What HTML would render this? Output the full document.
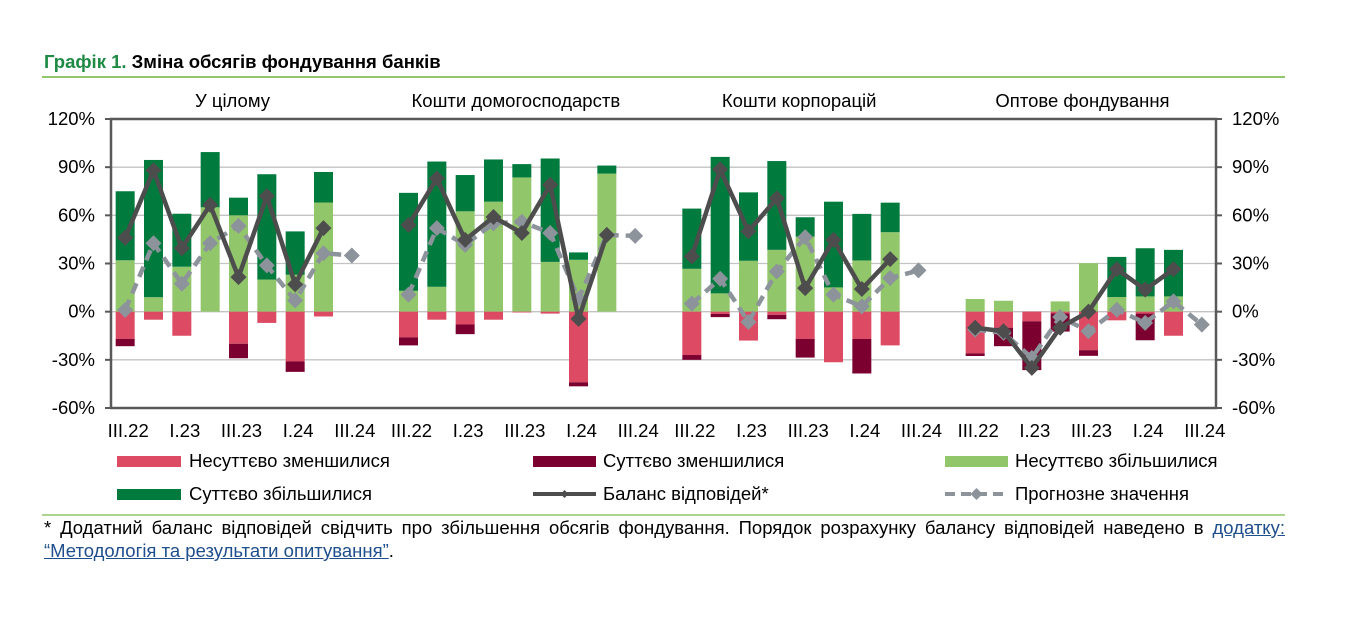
<!DOCTYPE html>
<html><head><meta charset="utf-8">
<style>
body{margin:0;background:#fff;width:1353px;height:619px;overflow:hidden;font-family:"Liberation Sans",Arial,sans-serif;}
svg{position:absolute;left:0;top:0;}
.t{font-family:"Liberation Sans",Arial,sans-serif;font-size:18.5px;fill:#000;}
#foot{position:absolute;left:44px;top:516px;width:1241px;font-size:18.5px;line-height:23px;text-align:justify;color:#000;}
#foot a{color:#1f4e8c;text-decoration:underline;}
</style></head>
<body>
<svg id="chart" width="1353" height="619" viewBox="0 0 1353 619" xmlns="http://www.w3.org/2000/svg">
<text x="44" y="68" class="t" style="font-weight:bold;font-size:18.5px"><tspan fill="#1e8a44">Графік 1.</tspan> Зміна обсягів фондування банків</text>
<line x1="42" y1="77" x2="1285" y2="77" stroke="#92c66a" stroke-width="2"/>
<g id="plot"></g>
<g>
<rect x="117" y="456" width="64" height="11" fill="#dc4a63"/>
<text x="189" y="467" class="t">Несуттєво зменшилися</text>
<rect x="533" y="456" width="63" height="11" fill="#7b0030"/>
<text x="603" y="467" class="t">Суттєво зменшилися</text>
<rect x="945" y="456" width="63" height="11" fill="#92c66a"/>
<text x="1015" y="467" class="t">Несуттєво збільшилися</text>
<rect x="117" y="489" width="64" height="11" fill="#007a3d"/>
<text x="189" y="500" class="t">Суттєво збільшилися</text>
<line x1="533" y1="494" x2="596" y2="494" stroke="#4d4d4d" stroke-width="4"/>
<path d="M564.5 490 L568.5 494 L564.5 498 L560.5 494Z" fill="#4d4d4d"/>
<text x="603" y="500" class="t">Баланс відповідей*</text>
<line x1="945" y1="494" x2="1008" y2="494" stroke="#8c939a" stroke-width="4" stroke-dasharray="10,6"/>
<path d="M976.5 488 L982.5 494 L976.5 500 L970.5 494Z" fill="#8c939a"/>
<text x="1015" y="500" class="t">Прогнозне значення</text>
</g>
<line x1="42" y1="515" x2="1285" y2="515" stroke="#92c66a" stroke-width="1.5"/>
</svg>
<div id="foot">* Додатний баланс відповідей свідчить про збільшення обсягів фондування. Порядок розрахунку балансу відповідей наведено в <a>додатку: “Методологія та результати опитування”</a>.</div>
<script>
const panelTitles = ["У цілому","Кошти домогосподарств","Кошти корпорацій","Оптове фондування"];
const tickLabels = ["III.22","I.23","III.23","I.24","III.24"];
const yTicks = [-60,-30,0,30,60,90,120];
const minorDecrease = [
 [-17,-5,-15,0,-20,-7,-31,-3],
 [-16,-5,-8,-5,-0.5,-1.2,-44,0],
 [-27,-1.4,-18,-2,-17,-31.5,-17,-21],
 [-26,-10,-6,-1,-24,-5.4,-1.2,-15]];
const majorDecrease = [
 [-4.5,0,0,0,-9,0,-6.5,0],
 [-5,0,-6,0,0,0,-2.5,0],
 [-3,-2,0,-2.7,-11.6,0,-21.5,0],
 [-1.6,-11.5,-30.4,-11.4,-3.5,0,-16.6,0]];
const minorIncrease = [
 [32,9,28,65,60,20,23,68],
 [13,15.5,62.5,68.5,83.6,31,32.3,86],
 [26.7,11.4,31.7,38.5,46.8,15.1,31.9,49.5],
 [7.9,6.8,0,6.4,30.2,9.1,9.5,9.5]];
const majorIncrease = [
 [43,85.5,33,34.4,11,65.6,27,19],
 [61,78,22.6,26.3,8.3,64.4,4.6,5],
 [37.5,85,42.6,55.3,12,53.4,29,18.4],
 [0,0,0,0,0,25,30,29]];
const balance = [
 [46,88,39.5,66.5,21.5,72,17,52],
 [54,83,44.7,59,49,79,-4.5,47.8],
 [34.4,88.6,50,70.6,14.7,44.7,14.1,32.7],
 [-10,-12.2,-35,-10,0,26.5,13.7,26.5]];
const forecast = [
 [1,42.6,17.4,42.6,53.4,28.8,7,36.4,35],
 [10.6,52,41.6,55,56,49,8,47.8,47.2],
 [5,20.5,-6.4,25,46.4,10.6,3.3,20.9,25.7],
 [-11.2,-13.2,-28.8,-3.3,-12.2,1.2,-7,6.4,-8.1]];

const NS="http://www.w3.org/2000/svg";
const X0=111,X1=1216,Y0=119,Y1=408,VMIN=-60,VMAX=120,SLOTS=39;
const slotW=(X1-X0)/SLOTS;
function xS(p,i){return X0+(p*10+i+0.5)*slotW;}
function yS(v){return Y1-(v-VMIN)*(Y1-Y0)/(VMAX-VMIN);}
const g=document.getElementById('plot');
function mk(tag,at,parent){const e=document.createElementNS(NS,tag);for(const k in at)e.setAttribute(k,at[k]);(parent||g).appendChild(e);return e;}

yTicks.forEach(v=>{
 if(v!==VMAX&&v!==VMIN){const l=mk('line',{x1:X0,x2:X1,y1:yS(v),y2:yS(v),stroke:'#c3c3c3','stroke-width':1.3});
 
 }
 const tl=mk('line',{x1:X0-6,x2:X0,y1:yS(v),y2:yS(v),stroke:'#595959','stroke-width':2});
 
 
 const tr=mk('line',{x1:X1,x2:X1+6,y1:yS(v),y2:yS(v),stroke:'#595959','stroke-width':2});
 
 
 const a=mk('text',{x:95,y:yS(v)+6,'text-anchor':'end',class:'t'});a.textContent=v+'%';
 
 
 const b=mk('text',{x:1232,y:yS(v)+6,class:'t'});b.textContent=v+'%';
 
 
});

const bw=19;
function bar(p,i,v0,v1,color,name){
 if(v0===v1)return;
 const r=mk('rect',{x:xS(p,i)-bw/2,y:Math.min(yS(v0),yS(v1)),width:bw,height:Math.abs(yS(v0)-yS(v1)),fill:color});
 
 
}
function diamond(x,y,s,c,name){
 const d=mk('path',{d:`M${x} ${y-s}L${x+s} ${y}L${x} ${y+s}L${x-s} ${y}Z`,fill:c});
 
 
}
for(let p=0;p<4;p++){
 const t=mk('text',{x:(xS(p,0)+xS(p,8))/2-6,y:107,'text-anchor':'middle',class:'t'});t.textContent=panelTitles[p];
 
 
 tickLabels.forEach((s,k)=>{const e=mk('text',{x:xS(p,k*2)+3,y:437,'text-anchor':'middle',class:'t'});e.textContent=s;
  
  });
 for(let i=0;i<minorIncrease[p].length;i++){
  const a=minorIncrease[p][i],b=majorIncrease[p][i],c=minorDecrease[p][i],d=majorDecrease[p][i];
  bar(p,i,0,a,'#92c66a','bar-minor-increase');
  bar(p,i,a,a+b,'#007a3d','bar-major-increase');
  bar(p,i,0,c,'#dc4a63','bar-minor-decrease');
  bar(p,i,c,c+d,'#7b0030','bar-major-decrease');
 }
 const fp=forecast[p].map((v,i)=>xS(p,i)+','+yS(v)).join(' ');
 const fl=mk('polyline',{points:fp,fill:'none',stroke:'#8c939a','stroke-width':4.5,'stroke-dasharray':'11,7'});
 
 
 forecast[p].forEach((v,i)=>diamond(xS(p,i),yS(v),8,'#8c939a','forecast-point'));
 const bp=balance[p].map((v,i)=>xS(p,i)+','+yS(v)).join(' ');
 const bl=mk('polyline',{points:bp,fill:'none',stroke:'#4d4d4d','stroke-width':4.5,'stroke-linejoin':'round'});
 
 
 balance[p].forEach((v,i)=>diamond(xS(p,i),yS(v),8,'#4d4d4d','balance-point'));
}
const fr=mk('rect',{x:X0,y:Y0,width:X1-X0,height:Y1-Y0,fill:'none',stroke:'#595959','stroke-width':2.5});


</script>
</body></html>
